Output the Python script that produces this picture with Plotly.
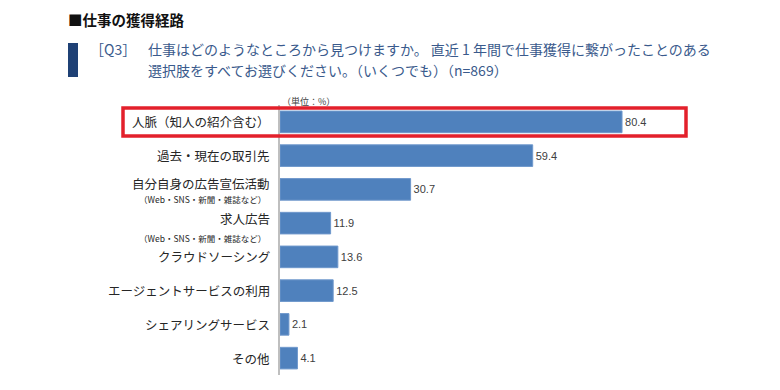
import plotly.graph_objects as go

categories = ["人脈（知人の紹介含む）", "過去・現在の取引先", "自分自身の広告宣伝活動", "求人広告",
              "クラウドソーシング", "エージェントサービスの利用", "シェアリングサービス", "その他"]
sublabels = ["", "", "（Web・SNS・新聞・雑誌など）", "（Web・SNS・新聞・雑誌など）", "", "", "", ""]
values = [80.4, 59.4, 30.7, 11.9, 13.6, 12.5, 2.1, 4.1]
value_labels = ["80.4", "59.4", "30.7", "11.9", "13.6", "12.5", "2.1", "4.1"]

W, H = 780, 390
L, R, T, B = 280, 60, 105, 15
PW, PH = W - L - R, H - T - B
FONT = "Noto Sans CJK JP"

def px(x):
    return (x - L) / PW

def py(y):
    return (H - B - y) / PH

ypos = list(range(len(categories)))

fig = go.Figure(go.Bar(
    x=values, y=ypos, orientation="h", width=0.64,
    marker=dict(color="#4f81bd", line=dict(color="#6f98cc", width=1)),
    text=value_labels, textposition="outside", cliponaxis=False,
    textfont=dict(family="Liberation Sans, Arial, sans-serif", size=11, color="#404040"),
    hoverinfo="skip",
))

annotations = []
for i, (c, s) in enumerate(zip(categories, sublabels)):
    if s:
        main_shift = 6 if i == 2 else 5
        sub_shift = -10 if i == 2 else -15
        annotations.append(dict(x=px(272), xref="paper", y=i, yref="y", text=c, showarrow=False,
                                xanchor="right", yanchor="middle", yshift=main_shift,
                                font=dict(family=FONT, size=12.5, color="#262626")))
        annotations.append(dict(x=px(268), xref="paper", y=i, yref="y", text=s, showarrow=False,
                                xanchor="right", yanchor="middle", yshift=sub_shift,
                                font=dict(family=FONT, size=8.5, color="#262626")))
    else:
        annotations.append(dict(x=px(272), xref="paper", y=i, yref="y", text=c, showarrow=False,
                                xanchor="right", yanchor="middle",
                                font=dict(family=FONT, size=12.5, color="#262626")))

annotations += [
    dict(x=px(66), y=py(20), xref="paper", yref="paper", text="<b>■仕事の獲得経路</b>", showarrow=False,
         xanchor="left", yanchor="middle", font=dict(family=FONT, size=14.5, color="#111111")),
    dict(x=px(88), y=py(49), xref="paper", yref="paper", text="［Q3］",
         showarrow=False, xanchor="left", yanchor="middle", font=dict(family=FONT, size=14, color="#3a5a8c")),
    dict(x=px(146), y=py(49), xref="paper", yref="paper",
         text="仕事はどのようなところから見つけますか。 直近 1 年間で仕事獲得に繋がったことのある",
         showarrow=False, xanchor="left", yanchor="middle", font=dict(family=FONT, size=14, color="#3a5a8c")),
    dict(x=px(146), y=py(70), xref="paper", yref="paper",
         text="選択肢をすべてお選びください。（いくつでも）（n=869）",
         showarrow=False, xanchor="left", yanchor="middle", font=dict(family=FONT, size=14, color="#3a5a8c")),
    dict(x=px(280), y=py(101), xref="paper", yref="paper", text="（単位：%）", showarrow=False,
         xanchor="left", yanchor="middle", font=dict(family=FONT, size=9, color="#404040")),
]

shapes = [
    dict(type="rect", xref="paper", yref="paper", x0=px(68), x1=px(78), y0=py(43), y1=py(77),
         fillcolor="#1f4175", line=dict(width=0)),
    dict(type="rect", xref="paper", yref="paper", x0=px(123), x1=px(686), y0=py(108), y1=py(136),
         fillcolor="rgba(0,0,0,0)", line=dict(color="#e3202b", width=3.5)),
]

fig.update_layout(
    width=W, height=H, margin=dict(l=L, r=R, t=T, b=B),
    paper_bgcolor="white", plot_bgcolor="white", showlegend=False,
    xaxis=dict(range=[0, PW / 4.254], visible=False, fixedrange=True),
    yaxis=dict(range=[7.5, -0.5], showticklabels=False, ticks="", showgrid=False, zeroline=False,
               showline=True, linecolor="#bfbfbf", linewidth=1.5, fixedrange=True),
    annotations=annotations, shapes=shapes,
)

fig.write_html("out.html", config={"displayModeBar": False},
               post_script="document.body.style.margin='0';document.body.style.overflow='hidden';")
